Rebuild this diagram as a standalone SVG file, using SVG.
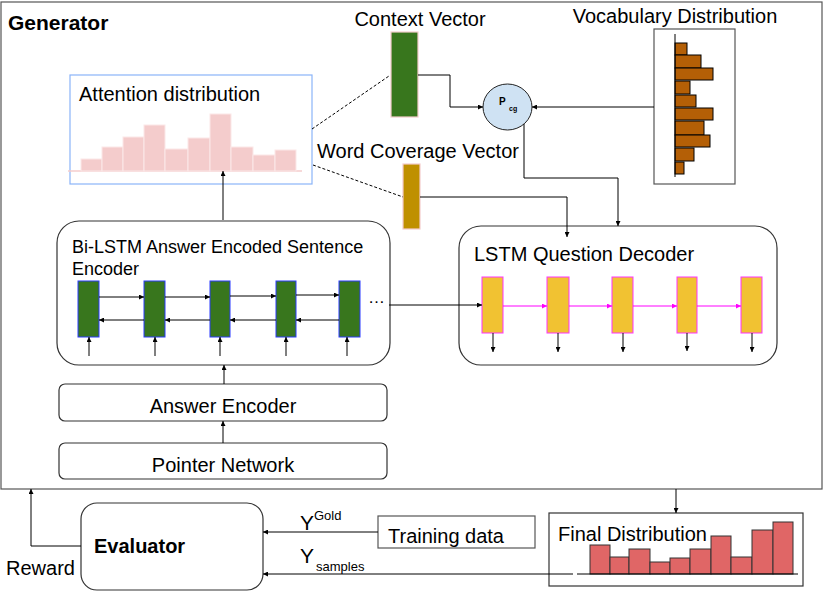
<svg xmlns="http://www.w3.org/2000/svg" width="830" height="592" viewBox="0 0 830 592">
<defs>
<marker id="ah" viewBox="0 0 10 10" refX="10" refY="5" markerWidth="5" markerHeight="5" markerUnits="userSpaceOnUse" orient="auto"><path d="M0,0 L10,5 L0,10 z" fill="#000"/></marker>
<marker id="ahm" viewBox="0 0 10 10" refX="10" refY="5" markerWidth="5" markerHeight="5" markerUnits="userSpaceOnUse" orient="auto"><path d="M0,0 L10,5 L0,10 z" fill="#ff00ff"/></marker>
</defs>
<style>
text{font-family:"Liberation Sans",Arial,sans-serif;fill:#000}
.t18{font-size:20px}
.b{font-weight:bold}
.box{fill:#fff;stroke:#333;stroke-width:1.2}
.ln{fill:none;stroke:#000;stroke-width:1}
.arr{fill:none;stroke:#000;stroke-width:1;marker-end:url(#ah)}
.marr{fill:none;stroke:#ff00ff;stroke-width:1;marker-end:url(#ahm)}
.att{fill:#f4cccc;stroke:#fbe8e8;stroke-width:1}
.voc{fill:#b45f06;stroke:#000;stroke-width:1}
.fin{fill:#e06666;stroke:#333;stroke-width:1}
.enc{fill:#38761d;stroke:#2a3bff;stroke-width:1}
.dec{fill:#f1c232;stroke:#ff33ff;stroke-width:1}
</style>
<rect width="830" height="592" fill="#fff"/>
<g id="generator">
<rect x="1" y="2" width="821" height="487" fill="none" stroke="#555" stroke-width="1.2"/>
<text x="8" y="30" font-size="21" class="b">Generator</text>
</g>
<g id="attention">
<rect x="70" y="75" width="242" height="109" fill="#fff" stroke="#8ab4f8" stroke-width="1.2"/>
<text x="79" y="101" class="t18">Attention distribution</text>
<line x1="68" y1="171" x2="302" y2="171" stroke="#f4cccc" stroke-width="1.5"/>
<rect class="att" x="81" y="159" width="21" height="12"/>
<rect class="att" x="102" y="147" width="21" height="24"/>
<rect class="att" x="123" y="137" width="21" height="34"/>
<rect class="att" x="144" y="125" width="21" height="46"/>
<rect class="att" x="165" y="149" width="23" height="22"/>
<rect class="att" x="188" y="138" width="22" height="33"/>
<rect class="att" x="210" y="114" width="21" height="57" stroke="#fce5cd"/>
<rect class="att" x="231" y="147" width="22" height="24"/>
<rect class="att" x="253" y="155" width="22" height="16"/>
<rect class="att" x="275" y="150" width="21" height="21" stroke="#fce5cd"/>
</g>
<g id="context-vector">
<text x="420" y="26" class="t18" text-anchor="middle">Context Vector</text>
<rect x="391" y="32" width="27" height="85" fill="#38761d" stroke="#f4cccc" stroke-width="1.2"/>
</g>
<g id="coverage-vector">
<text x="317" y="158" class="t18">Word Coverage Vector</text>
<rect x="403" y="164" width="17" height="65" fill="#bf9000" stroke="#f4cccc" stroke-width="1.2"/>
</g>
<g id="pcg">
<ellipse cx="507.5" cy="107" rx="24.5" ry="23" fill="#cfe2f3" stroke="#222" stroke-width="1"/>
<text x="499" y="105" font-size="10" class="b">P</text>
<text x="509" y="111" font-size="7" class="b">cg</text>
</g>
<g id="vocabulary">
<text x="675" y="23" class="t18" text-anchor="middle">Vocabulary Distribution</text>
<rect x="654" y="29" width="81" height="155" fill="#fff" stroke="#555" stroke-width="1.2"/>
<rect class="voc" x="675" y="43" width="12" height="12"/>
<rect class="voc" x="675" y="55" width="26" height="13"/>
<rect class="voc" x="675" y="68" width="38" height="12"/>
<rect class="voc" x="675" y="81" width="15" height="13"/>
<rect class="voc" x="675" y="95" width="21" height="12"/>
<rect class="voc" x="675" y="108" width="38" height="12"/>
<rect class="voc" x="675" y="121" width="29" height="14"/>
<rect class="voc" x="675" y="135" width="35" height="12"/>
<rect class="voc" x="675" y="148" width="19" height="13"/>
<rect class="voc" x="675" y="162" width="9" height="12"/>
<line x1="675" y1="34" x2="675" y2="177" stroke="#000" stroke-width="1"/>
</g>
<g id="bilstm-encoder">
<rect x="57" y="221" width="333" height="144" rx="22" class="box"/>
<text x="72" y="253" font-size="18">Bi-LSTM Answer Encoded Sentence</text>
<text x="72" y="275" font-size="18">Encoder</text>
<rect class="enc" x="78" y="281" width="21" height="56"/>
<rect class="enc" x="144" y="281" width="21" height="56"/>
<rect class="enc" x="210" y="281" width="20" height="56"/>
<rect class="enc" x="276" y="281" width="20" height="56"/>
<rect class="enc" x="339" y="281" width="21" height="56"/>
<text x="368" y="303" font-size="17">…</text>
</g>
<g id="lstm-decoder">
<rect x="459" y="226" width="318" height="139" rx="22" class="box"/>
<text x="474" y="261" class="t18">LSTM Question Decoder</text>
<rect class="dec" x="482" y="277" width="21" height="56"/>
<rect class="dec" x="547" y="277" width="22" height="56"/>
<rect class="dec" x="612" y="277" width="21" height="56"/>
<rect class="dec" x="677" y="277" width="20" height="56"/>
<rect class="dec" x="741" y="277" width="21" height="56"/>
</g>
<g id="answer-encoder">
<rect x="59" y="384" width="328" height="37" rx="6" class="box"/>
<text x="223" y="413" class="t18" text-anchor="middle">Answer Encoder</text>
</g>
<g id="pointer-network">
<rect x="59" y="443" width="328" height="36" rx="6" class="box"/>
<text x="223" y="472" class="t18" text-anchor="middle">Pointer Network</text>
</g>
<g id="evaluator">
<rect x="81" y="503" width="182" height="87" rx="16" class="box"/>
<text x="94" y="553" class="t18 b">Evaluator</text>
</g>
<g id="training-data">
<rect x="378" y="516" width="157" height="32" fill="#fff" stroke="#555" stroke-width="1.2"/>
<text x="388" y="543" class="t18">Training data</text>
</g>
<g id="final-distribution">
<rect x="549" y="513" width="254" height="73" fill="#fff" stroke="#333" stroke-width="1.2"/>
<text x="558" y="541" class="t18">Final Distribution</text>
<rect class="fin" x="590" y="545" width="20" height="29"/>
<rect class="fin" x="610" y="557" width="19" height="17"/>
<rect class="fin" x="629" y="549" width="21" height="25"/>
<rect class="fin" x="650" y="562" width="20" height="12"/>
<rect class="fin" x="670" y="558" width="20" height="16"/>
<rect class="fin" x="690" y="549" width="21" height="25"/>
<rect class="fin" x="711" y="536" width="20" height="38"/>
<rect class="fin" x="731" y="557" width="21" height="17"/>
<rect class="fin" x="752" y="530" width="21" height="44"/>
<rect class="fin" x="773" y="522" width="20" height="52"/>
<line x1="577" y1="574" x2="798" y2="574" stroke="#000" stroke-width="1"/>
</g>
<g id="connectors">
<path class="arr" d="M223,220 V171"/>
<path d="M312,129 L389,76" fill="none" stroke="#000" stroke-width="1" stroke-dasharray="3,2"/>
<path d="M313,165 L403,197" fill="none" stroke="#000" stroke-width="1" stroke-dasharray="3,2"/>
<path class="arr" d="M418,75 H450 V107 H483"/>
<path class="arr" d="M654,107 H532"/>
<path class="arr" d="M524,124 V178 H618 V226"/>
<path class="arr" d="M420,197 H567 V237"/>
<path class="arr" d="M99,297 H144"/>
<path class="arr" d="M165,297 H210"/>
<path class="arr" d="M230,296 H276"/>
<path class="arr" d="M296,295 H339"/>
<path class="arr" d="M144,320 H99"/>
<path class="arr" d="M210,320 H165"/>
<path class="arr" d="M276,320 H230"/>
<path class="arr" d="M339,320 H296"/>
<path class="arr" d="M89,356 V337"/>
<path class="arr" d="M155,356 V337"/>
<path class="arr" d="M220,356 V337"/>
<path class="arr" d="M286,356 V337"/>
<path class="arr" d="M347,356 V337"/>
<path class="arr" d="M389,305 H482"/>
<path class="marr" d="M503,306 H547"/>
<path class="marr" d="M569,306 H612"/>
<path class="marr" d="M633,306 H677"/>
<path class="marr" d="M697,306 H741"/>
<path class="arr" d="M493,333 V352"/>
<path class="arr" d="M558,333 V352"/>
<path class="arr" d="M623,333 V352"/>
<path class="arr" d="M687,333 V351"/>
<path class="arr" d="M752,333 V352"/>
<path class="arr" d="M224,384 V365"/>
<path class="arr" d="M223,443 V421"/>
<path class="arr" d="M81,546 H31 V489"/>
<path class="arr" d="M676,489 V513"/>
<path class="arr" d="M378,532 H263"/>
<path class="arr" d="M573,574 H263"/>
<text x="6" y="575" class="t18">Reward</text>
<text x="300" y="530" font-size="21">Y</text>
<text x="314" y="520" font-size="13">Gold</text>
<text x="300" y="563" font-size="21">Y</text>
<text x="316" y="571" font-size="13">samples</text>
</g>
</svg>
